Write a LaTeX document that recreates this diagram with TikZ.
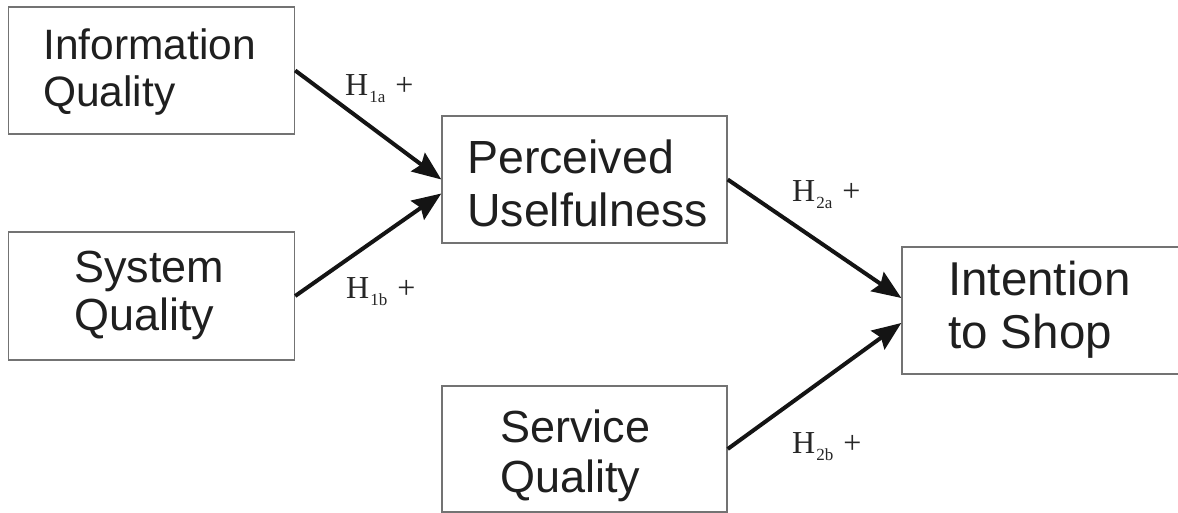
\documentclass[tikz,border=0pt]{standalone}
\usepackage{fontspec}
\setmainfont{Liberation Sans}
\newfontfamily\serifH{Liberation Serif}
\usetikzlibrary{arrows.meta}
\newcommand\hsub[1]{\raisebox{-7pt}{\fontsize{17}{17}\selectfont #1}}
\begin{document}
\begin{tikzpicture}[x=1pt,y=-1pt,
  box/.style={draw=black!55, line width=1.4pt, inner sep=0pt, minimum height=127pt},
  boxtext/.style 2 args={anchor=base west, inner sep=0pt, align=left, text=black!88,
    font=\fontsize{#1}{#2}\selectfont},
  arr/.style={line width=4pt, draw=black!92, -{Stealth[length=29pt,width=23pt,inset=4pt]}},
  hyp/.style={anchor=base west, inner sep=0pt, text=black!85,
    font=\serifH\fontsize{32}{32}\selectfont}]
\useasboundingbox (0,0) rectangle (1178,513);
\node[box, minimum width=286pt] (iq) at (151.5,70.5) {};
\node[box, minimum width=286pt, minimum height=128pt] (sq) at (151.5,296) {};
\node[box, minimum width=285pt] (pu) at (584.5,179.5) {};
\node[box, minimum width=285pt, minimum height=126pt] (sv) at (584.5,449) {};
\node[box, minimum width=282pt] (it) at (1043,310.5) {};
\node[boxtext={42.5}{47}] (iqt) at (43,107) {Information\\Quality};
\node[boxtext={45}{48}] (sqt) at (74,330) {System\\Quality};
\node[boxtext={46.5}{54}] (put) at (467,227) {Perceived\\Uselfulness};
\node[boxtext={45}{50}] (svt) at (500,492) {Service\\Quality};
\node[boxtext={47.5}{53}] (itt) at (948,348) {Intention\\to Shop};
\draw[arr] (iq.east) -- ([yshift=0pt]pu.west);
\draw[arr] (sq.east) -- ([yshift=-14pt]pu.west);
\draw[arr] (pu.east) -- ([yshift=12.5pt]it.west);
\draw[arr] (sv.east) -- ([yshift=-12.5pt]it.west);
\node[hyp] (h1a) at (345,96) {H\kern1pt\hsub{1a}\kern10pt+};
\node[hyp] (h1b) at (346,298) {H\kern1pt\hsub{1b}\kern10pt+};
\node[hyp] (h2a) at (792,202) {H\kern1pt\hsub{2a}\kern10pt+};
\node[hyp] (h2b) at (792,453) {H\kern1pt\hsub{2b}\kern10pt+};
\end{tikzpicture}
\end{document}
